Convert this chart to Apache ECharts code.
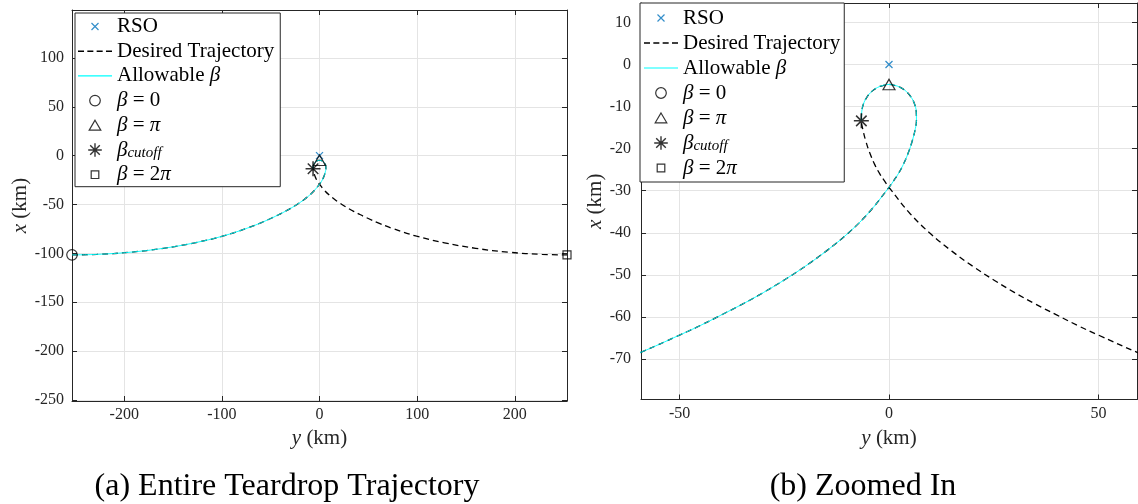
<!DOCTYPE html>
<html>
<head>
<meta charset="utf-8">
<script src="https://cdn.jsdelivr.net/npm/echarts@6/dist/echarts.min.js"></script>
<style>
  html, body { margin: 0; padding: 0; background: #fff; }
  #chart { width: 1138px; height: 504px; }
</style>
</head>
<body>
<div id="chart"></div>
<script>
// Teardrop relative trajectory, points are [y (km), x (km)]
// beta = 0 -> beta = pi (approach branch, up the right side of the loop to the top)
const approachPath = [
  [-253.5, -101.5], [-228, -101.0], [-194, -98.8], [-160, -94.8], [-128, -89.2],
  [-99.5, -82.4], [-73.5, -74.0], [-59.5, -68.5], [-50, -64.3], [-45, -62.0],
  [-40, -59.5], [-35, -56.95], [-30, -54.2], [-25, -51.2], [-20, -47.95],
  [-15, -44.35], [-10, -40.3], [-5, -35.4], [0, -29.2], [1.0, -27.8],
  [2.2, -26.0], [3.4, -23.8], [4.6, -21.0], [5.6, -18.0], [6.3, -15.2],
  [6.55, -13.3], [6.5, -11.2], [6.1, -9.4], [5.3, -7.8], [4.1, -6.4],
  [2.7, -5.45], [1.3, -4.95], [0, -4.75]
];
// beta = pi -> beta_cutoff (down the left side of the loop)
const loopReturnPath = [
  [0, -4.75], [-1.3, -4.95], [-2.7, -5.45], [-4.1, -6.4], [-5.3, -7.8],
  [-6.1, -9.4], [-6.5, -11.2], [-6.6, -13.4]
];
// beta_cutoff -> beta = 2 pi (departure branch)
const departPath = [
  [-6.6, -13.4], [-6.3, -15.2], [-5.6, -18.0], [-4.6, -21.0], [-3.4, -23.8],
  [-2.2, -26.0], [-1.0, -27.8], [0, -29.2], [5, -35.4], [10, -40.3],
  [15, -44.35], [20, -47.95], [25, -51.2], [30, -54.2], [35, -56.95],
  [40, -59.5], [45, -62.0], [50, -64.3], [59.5, -68.5], [73.5, -74.0],
  [99.5, -82.4], [128, -89.2], [160, -94.8], [194, -98.8], [228, -101.0],
  [253.5, -101.5]
];

const rsoPoint = [[0, 0]];
const betaZeroPoint = [[-253.5, -101.5]];
const betaPiPoint = [[0, -4.75]];
const betaCutoffPoint = [[-6.6, -13.4]];
const betaTwoPiPoint = [[253.5, -101.5]];

// tick values
const fullYTicks = [-200, -100, 0, 100, 200];
const fullXTicks = [-250, -200, -150, -100, -50, 0, 50, 100];
const zoomYTicks = [-50, 0, 50];
const zoomXTicks = [-70, -60, -50, -40, -30, -20, -10, 0, 10];

// legend entries
const legendNames = ['RSO', 'Desired Trajectory', 'Allowable β', 'β = 0', 'β = π', 'β cutoff', 'β = 2π'];
const legendLabels = {
  'RSO': 'RSO',
  'Desired Trajectory': 'Desired Trajectory',
  'Allowable β': 'Allowable {m|β}',
  'β = 0': '{m|β} = 0',
  'β = π': '{m|β} = {m|π}',
  'β cutoff': '{m|β}{s|cutoff}',
  'β = 2π': '{m|β} = 2{m|π}'
};

const desiredPath = approachPath.concat(loopReturnPath.slice(1), departPath.slice(1));
const allowablePath = approachPath.concat(loopReturnPath.slice(1));

const SERIF = '"Liberation Serif", "DejaVu Serif", serif';
const AXIS_COLOR = '#262626';
const GRID_COLOR = '#e4e4e4';
const RSO_BLUE = '#0072BD';
const CYAN = '#00ffff';

// legend icon shapes (corner move-to points keep every marker at its true pixel size)
const ICON = {
  cross: 'path://M-7,-7M7,7M-3.5,-3.5L3.5,3.5M-3.5,3.5L3.5,-3.5',
  circle: 'path://M-7,-7M7,7M5.3,0A5.3,5.3,0,1,1,-5.3,0A5.3,5.3,0,1,1,5.3,0Z',
  triangle: 'path://M-7,-7M7,7M0,-5L5.8,4.8L-5.8,4.8Z',
  asterisk: 'path://M-7,-7M7,7M0,-6.8L0,6.8M-6.8,0L6.8,0M-4.8,-4.8L4.8,4.8M-4.8,4.8L4.8,-4.8',
  square: 'path://M-7,-7M7,7M-3.8,-3.8H3.8V3.8H-3.8Z',
  dashed: 'path://M0,0h6v1.4h-6zM9.3,0h6v1.4h-6zM18.6,0h6v1.4h-6zM27.9,0h6v1.4h-6z',
  solid: 'path://M0,0H34V1.2H0Z'
};
const MARK_CROSS = 'path://M-1,-1L1,1M-1,1L1,-1';
const MARK_STAR = 'path://M0,-6L0,6M-6,0L6,0M-4.2,-4.2L4.2,4.2M-4.2,4.2L4.2,-4.2';
const MARK_TRI = 'path://M0,-5L5.5,4.5L-5.5,4.5Z';

const strokeIcon = (color) => ({ color: 'rgba(0,0,0,0)', borderColor: color, borderWidth: 1.2 });
const fillIcon = (color) => ({ color: color, borderWidth: 0 });

const legendData = [
  { name: 'RSO', icon: ICON.cross, itemStyle: strokeIcon(RSO_BLUE) },
  { name: 'Desired Trajectory', icon: ICON.dashed, itemStyle: fillIcon('#000') },
  { name: 'Allowable β', icon: ICON.solid, itemStyle: fillIcon(CYAN) },
  { name: 'β = 0', icon: ICON.circle, itemStyle: strokeIcon('#000') },
  { name: 'β = π', icon: ICON.triangle, itemStyle: strokeIcon('#000') },
  { name: 'β cutoff', icon: ICON.asterisk, itemStyle: { color: 'rgba(0,0,0,0)', borderColor: '#000', borderWidth: 1.4 } },
  { name: 'β = 2π', icon: ICON.square, itemStyle: strokeIcon('#000') }
];

function makeLegend(left, top, padding, gap) {
  return {
    orient: 'vertical',
    left: left, top: top,
    padding: padding,
    itemGap: gap,
    itemWidth: 34, itemHeight: 14,
    backgroundColor: '#fff',
    borderColor: AXIS_COLOR, borderWidth: 1,
    selectedMode: false,
    data: legendData,
    formatter: (name) => legendLabels[name] || name,
    textStyle: {
      fontFamily: SERIF, fontSize: 21, color: '#000', lineHeight: 22,
      rich: {
        m: { fontFamily: SERIF, fontSize: 21, fontStyle: 'italic', color: '#000', lineHeight: 22 },
        s: { fontFamily: SERIF, fontSize: 15, fontStyle: 'italic', color: '#000', lineHeight: 12, verticalAlign: 'bottom' }
      }
    }
  };
}

function axis(o) {
  return {
    type: 'value',
    gridIndex: o.grid,
    position: o.position,
    min: o.min, max: o.max,
    axisLine: { show: true, onZero: false, lineStyle: { color: AXIS_COLOR, width: 1 } },
    axisTick: { show: true, inside: true, length: 5, customValues: o.ticks, lineStyle: { color: AXIS_COLOR, width: 1 } },
    axisLabel: o.labels ? {
      show: true, customValues: o.ticks, margin: o.margin,
      fontFamily: SERIF, fontSize: 16, color: AXIS_COLOR
    } : { show: false },
    splitLine: { show: !!o.split, lineStyle: { color: GRID_COLOR, width: 1 } },
    name: o.name || '',
    nameLocation: 'middle',
    nameGap: o.nameGap || 0,
    nameTextStyle: {
      fontFamily: SERIF, fontSize: 21, color: AXIS_COLOR,
      rich: { i: { fontFamily: SERIF, fontSize: 21, fontStyle: 'italic', color: AXIS_COLOR } }
    }
  };
}

function panelSeries(xi, yi) {
  const base = { xAxisIndex: xi, yAxisIndex: yi };
  return [
    Object.assign({
      name: 'Desired Trajectory', type: 'line', data: desiredPath, symbol: 'none',
      smooth: 0.4, clip: true, z: 2,
      lineStyle: { color: '#000', width: 1.3, type: [6, 4] }
    }, base),
    Object.assign({
      name: 'Allowable β', type: 'line', data: allowablePath, symbol: 'none',
      smooth: 0.4, clip: true, z: 3,
      lineStyle: { color: CYAN, width: 1, opacity: 0.9 }
    }, base),
    Object.assign({
      name: 'RSO', type: 'scatter', data: rsoPoint, symbol: MARK_CROSS, symbolSize: 7, clip: false, z: 4,
      itemStyle: { color: 'rgba(0,0,0,0)', borderColor: RSO_BLUE, borderWidth: 1.3 }
    }, base),
    Object.assign({
      name: 'β = 0', type: 'scatter', data: betaZeroPoint, symbol: 'circle', symbolSize: 10.5, clip: false, z: 4,
      itemStyle: { color: 'rgba(0,0,0,0)', borderColor: '#000', borderWidth: 1.2 }
    }, base),
    Object.assign({
      name: 'β = π', type: 'scatter', data: betaPiPoint, symbol: MARK_TRI, symbolSize: [12, 10.5], clip: false, z: 4,
      itemStyle: { color: 'rgba(0,0,0,0)', borderColor: '#000', borderWidth: 1.2 }
    }, base),
    Object.assign({
      name: 'β cutoff', type: 'scatter', data: betaCutoffPoint, symbol: MARK_STAR, symbolSize: 15, clip: false, z: 4,
      itemStyle: { color: 'rgba(0,0,0,0)', borderColor: '#000', borderWidth: 1.5 }
    }, base),
    Object.assign({
      name: 'β = 2π', type: 'scatter', data: betaTwoPiPoint, symbol: 'rect', symbolSize: 8, clip: false, z: 4,
      itemStyle: { color: 'rgba(0,0,0,0)', borderColor: '#000', borderWidth: 1.2 }
    }, base)
  ];
}

const chart = echarts.init(document.getElementById('chart'), null, { renderer: 'canvas' });
chart.setOption({
  animation: false,
  backgroundColor: '#fff',
  grid: [
    { left: 72, top: 10, width: 495, height: 391 },
    { left: 641, top: 3, width: 496, height: 396.5 }
  ],
  xAxis: [
    axis({ grid: 0, position: 'bottom', min: -253.5, max: 253.5, ticks: fullYTicks, labels: true, margin: 6, split: true,
           name: '{i|y} (km)', nameGap: 27 }),
    axis({ grid: 0, position: 'top', min: -253.5, max: 253.5, ticks: fullYTicks }),
    axis({ grid: 1, position: 'bottom', min: -59.2, max: 59.2, ticks: zoomYTicks, labels: true, margin: 6, split: true,
           name: '{i|y} (km)', nameGap: 28 }),
    axis({ grid: 1, position: 'top', min: -59.2, max: 59.2, ticks: zoomYTicks })
  ],
  yAxis: [
    axis({ grid: 0, position: 'left', min: -251, max: 149, ticks: fullXTicks, labels: true, margin: 8, split: true,
           name: '{i|x} (km)', nameGap: 41 }),
    axis({ grid: 0, position: 'right', min: -251, max: 149, ticks: fullXTicks }),
    axis({ grid: 1, position: 'left', min: -79.6, max: 14.6, ticks: zoomXTicks, labels: true, margin: 10, split: true,
           name: '{i|x} (km)', nameGap: 33 }),
    axis({ grid: 1, position: 'right', min: -79.6, max: 14.6, ticks: zoomXTicks })
  ],
  legend: [
    makeLegend(75, 13, [2.5, 6, 1, 3], 2.7),
    makeLegend(640, 3, [4, 4, 3, 4], 3)
  ],
  graphic: [
    { type: 'text', x: 287, y: 487, style: { text: '(a) Entire Teardrop Trajectory', fontFamily: SERIF, fontSize: 32,
      fill: '#000', align: 'center', verticalAlign: 'middle' } },
    { type: 'text', x: 863, y: 487, style: { text: '(b) Zoomed In', fontFamily: SERIF, fontSize: 32,
      fill: '#000', align: 'center', verticalAlign: 'middle' } }
  ],
  series: panelSeries(0, 0).concat(panelSeries(2, 2))
});
</script>
</body>
</html>
